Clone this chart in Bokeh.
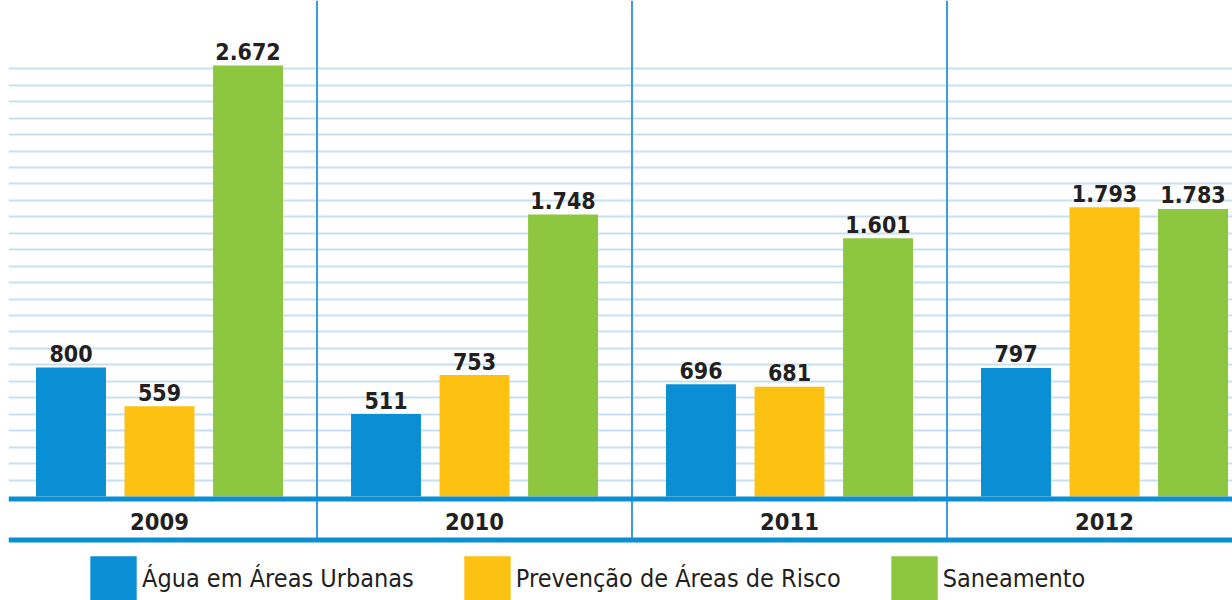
import numpy as np
from bokeh.plotting import figure
from bokeh.models import ColumnDataSource, Range1d, FixedTicker, Legend, LegendItem, Span
from bokeh.transform import dodge
from bokeh.core.properties import value
from bokeh.embed import file_html
from bokeh.resources import INLINE

# ---- data ----
years = ["2009", "2010", "2011", "2012"]
series = ["Água em Áreas Urbanas", "Prevenção de Áreas de Risco", "Saneamento"]
agua = [800, 511, 696, 797]
prevencao = [559, 753, 681, 1793]
saneamento = [2672, 1748, 1601, 1783]

colors = ["#0a8fd4", "#fdc112", "#8dc63f"]
TXT = "#231f20"
FONT_STR = "DejaVu Sans Condensed, Roboto"
BOLD_FONT = value(FONT_STR)

def fmt(v):
    return f"{v:,}".replace(",", ".")

x = np.arange(len(years))
src = ColumnDataSource(dict(
    x=x, year=years,
    agua=agua, prevencao=prevencao, saneamento=saneamento,
    agua_lbl=[fmt(v) for v in agua],
    prev_lbl=[fmt(v) for v in prevencao],
    san_lbl=[fmt(v) for v in saneamento],
))

Y0, Y1 = -644.8, 3075.2
p = figure(width=1232, height=600, output_backend="svg", toolbar_location=None,
           x_range=Range1d(-0.4794, 3.4063), y_range=Range1d(Y0, Y1),
           min_border=0, min_border_left=8)
p.outline_line_color = None
p.xaxis.visible = False
p.yaxis.visible = False
p.xgrid.visible = False
p.ygrid.ticker = FixedTicker(ticks=list(np.arange(102, 2653, 102)))
p.ygrid.grid_line_color = "#c6e0f4"
p.ygrid.grid_line_width = 1.8
p.background_fill_color = "white"

# vertical dividers between years
xb = x[:-1] + 0.5
p.segment(x0=xb, y0=[-275] * len(xb), x1=xb, y1=[Y1] * len(xb),
          line_color="#3d9bdb", line_width=2)

off = 0.281
bw = 0.222
cols = ["agua", "prevencao", "saneamento"]
lbls = ["agua_lbl", "prev_lbl", "san_lbl"]
renderers = []
for i, (c, l) in enumerate(zip(cols, lbls)):
    d = (i - 1) * off
    r = p.vbar(x=dodge("x", d, range=p.x_range), top=c, width=bw, bottom=0,
               source=src, fill_color=colors[i], line_color=None)
    renderers.append(r)
    p.text(x=dodge("x", d, range=p.x_range), y=c, text=l, source=src,
           text_align="center", text_baseline="alphabetic", y_offset=-14,
           text_font=BOLD_FONT, text_font_style="bold", text_font_size="23px",
           text_color=TXT)

# axis band lines
p.add_layout(Span(location=-15.5, dimension="width", line_color="#0a8fd4", line_width=5))
p.add_layout(Span(location=-269.7, dimension="width", line_color="#0a8fd4", line_width=5))

# year labels
p.text(x="x", y=0, text="year", source=src, y_offset=25,
       text_align="center", text_baseline="alphabetic",
       text_font=BOLD_FONT, text_font_style="bold", text_font_size="23.5px",
       text_color=TXT)

legend = Legend(items=[LegendItem(label=s, renderers=[r]) for s, r in zip(series, renderers)],
                orientation="horizontal", location=(76, -7),
                glyph_width=58, glyph_height=57, label_height=57, label_standoff=0,
                spacing=44, padding=0, margin=0,
                label_text_font=FONT_STR, label_text_font_size="25px",
                label_text_color=TXT,
                border_line_color=None, background_fill_alpha=0)
p.add_layout(legend)

open("out.html", "w").write(file_html(p, INLINE))
